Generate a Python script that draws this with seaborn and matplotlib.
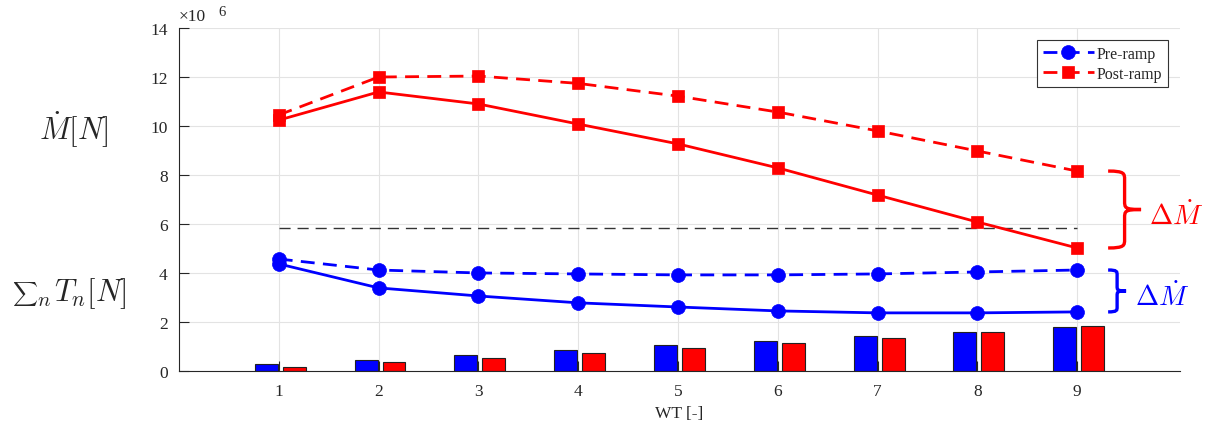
import numpy as np
import pandas as pd
import matplotlib
matplotlib.use("Agg")
import matplotlib.pyplot as plt
from matplotlib.path import Path
from matplotlib.patches import PathPatch
import seaborn as sns

# ---------------- data (values in units of 1e6 N) ----------------
wt = np.array([1, 2, 3, 4, 5, 6, 7, 8, 9])
post_dashed = [10.45, 12.00, 12.04, 11.74, 11.22, 10.57, 9.80, 8.98, 8.16]
post_solid = [10.24, 11.39, 10.90, 10.08, 9.27, 8.29, 7.18, 6.08, 5.02]
pre_dashed = [4.57, 4.12, 4.00, 3.96, 3.92, 3.92, 3.96, 4.04, 4.12]
pre_solid = [4.37, 3.39, 3.06, 2.78, 2.61, 2.45, 2.37, 2.37, 2.41]
pre_bars = [0.27, 0.46, 0.67, 0.86, 1.06, 1.22, 1.43, 1.59, 1.80]
post_bars = [0.16, 0.35, 0.53, 0.73, 0.93, 1.12, 1.35, 1.59, 1.84]
ref_level = 5.85
xticks = [1, 2, 3, 4, 5, 6, 7, 8, 9]
yticks = [0, 2, 4, 6, 8, 10, 12, 14]

# ---------------- style ----------------
sns.set_theme(style="whitegrid")
plt.rcParams['font.family'] = ['Liberation Serif', 'DejaVu Serif']
plt.rcParams['mathtext.fontset'] = 'cm'

fig = plt.figure(figsize=(12.09, 4.27), dpi=100)
ax = fig.add_axes([0.148, 0.129, 0.828, 0.803])

BLUE = '#0000ff'
RED = '#ff0000'
tick_col = '#262626'

# bars
bw = 0.23
ax.bar(wt - 0.24, pre_bars, width=bw, align='edge', color=BLUE,
       edgecolor='#222222', linewidth=0.8, zorder=2)
ax.bar(wt + 0.04, post_bars, width=bw, align='edge', color=RED,
       edgecolor='#222222', linewidth=0.8, zorder=2)

# reference dashed black line
ax.plot([wt[0], wt[-1]], [ref_level, ref_level], color='#333333',
        linewidth=1.0, linestyle=(0, (8, 5)), zorder=2)

lw = 2.0
dash = (0, (5, 3))
sns.lineplot(x=wt, y=pre_dashed, ax=ax, color=BLUE, linewidth=lw,
             linestyle=dash, marker='o', markersize=10,
             markeredgecolor=BLUE, markeredgewidth=0.5, label='Pre-ramp', zorder=4)
sns.lineplot(x=wt, y=post_dashed, ax=ax, color=RED, linewidth=lw,
             linestyle=dash, marker='s', markersize=8,
             markeredgecolor=RED, markeredgewidth=0.5, label='Post-ramp', zorder=4)
sns.lineplot(x=wt, y=pre_solid, ax=ax, color=BLUE, linewidth=lw,
             marker='o', markersize=10, markeredgecolor=BLUE,
             markeredgewidth=0.5, zorder=4, legend=False)
sns.lineplot(x=wt, y=post_solid, ax=ax, color=RED, linewidth=lw,
             marker='s', markersize=8, markeredgecolor=RED,
             markeredgewidth=0.5, zorder=4, legend=False)

# axes
ax.set_xlim(0, 10.03)
ax.set_ylim(0, 14)
ax.set_xticks(xticks)
ax.set_yticks(yticks)
ax.set_xticklabels([str(v) for v in xticks])
ax.set_yticklabels([str(v) for v in yticks])
ax.tick_params(axis='both', which='major', direction='in', length=7, width=0.8,
               colors=tick_col, labelsize=12.5, bottom=True, left=True)
ax.tick_params(axis='x', pad=9)
ax.tick_params(axis='y', pad=8)
ax.grid(True, color='#e3e3e3', linewidth=0.8)
ax.set_axisbelow(True)
for s in ['top', 'right']:
    ax.spines[s].set_visible(False)
for s in ['left', 'bottom']:
    ax.spines[s].set_visible(True)
    ax.spines[s].set_color(tick_col)
    ax.spines[s].set_linewidth(0.8)
ax.set_xlabel('WT [-]', fontsize=12.5, color=tick_col, labelpad=4)
ax.set_ylabel('')

# exponent label
ax.text(0.0, 1.012, '×10', transform=ax.transAxes, fontsize=12.5,
        color=tick_col, ha='left', va='bottom')
ax.text(0.039, 1.03, '6', transform=ax.transAxes, fontsize=10.5,
        color=tick_col, ha='left', va='bottom')

# legend (use the actual dashed line artists as handles)
handles = [l for l in ax.lines if l.get_label() in ('Pre-ramp', 'Post-ramp')]
leg = ax.legend(handles=handles, labels=[h.get_label() for h in handles],
                loc='upper right', bbox_to_anchor=(0.988, 0.965),
                borderaxespad=0.0,
                fontsize=11.5, frameon=True, fancybox=False,
                edgecolor='#333333', handlelength=3.2, borderpad=0.35,
                labelspacing=0.25, handletextpad=0.2, framealpha=1)
leg.get_frame().set_linewidth(0.8)

# left-side labels
fig.text(0.061, 0.696, r'$\dot{M}[N]$', fontsize=22, ha='center', va='center')
fig.text(0.010, 0.297, r'$\sum$', fontsize=12.5, ha='left', va='baseline')
fig.text(0.031, 0.283, r'$n$', fontsize=15, ha='left', va='baseline')
fig.text(0.045, 0.295, r'$T_n[N]$', fontsize=22, ha='left', va='baseline')

# braces
def brace(ax, x0, width, y0, y1, color):
    ym = 0.5 * (y0 + y1)
    xm = x0 + width * 0.5
    xt = x0 + width
    r = min(0.35, (y1 - y0) * 0.12)
    verts = [
        (x0, y1), (xm, y1), (xm, y1 - r * 0.3), (xm, y1 - r),
        (xm, ym + r),
        (xm, ym + r * 0.2), (xm, ym), (xt, ym),
        (xm, ym), (xm, ym - r * 0.2), (xm, ym - r),
        (xm, y0 + r),
        (xm, y0 + r * 0.3), (xm, y0), (x0, y0),
    ]
    codes = [Path.MOVETO, Path.CURVE4, Path.CURVE4, Path.CURVE4,
             Path.LINETO,
             Path.CURVE4, Path.CURVE4, Path.CURVE4,
             Path.CURVE4, Path.CURVE4, Path.CURVE4,
             Path.LINETO,
             Path.CURVE4, Path.CURVE4, Path.CURVE4]
    ax.add_patch(PathPatch(Path(verts, codes), facecolor='none',
                           edgecolor=color, linewidth=2.4, clip_on=False,
                           zorder=5))

brace(ax, 9.31, 0.33, post_solid[-1], post_dashed[-1], RED)
brace(ax, 9.31, 0.18, pre_solid[-1], pre_dashed[-1], BLUE)
ax.text(9.72, 0.5 * (post_solid[-1] + post_dashed[-1]) - 0.25,
        r'$\Delta\dot{M}$', color=RED, fontsize=20, ha='left', va='center',
        clip_on=False)
ax.text(9.58, 0.5 * (pre_solid[-1] + pre_dashed[-1]) - 0.2,
        r'$\Delta\dot{M}$', color=BLUE, fontsize=20, ha='left', va='center',
        clip_on=False)

fig.savefig('out.png', dpi=100)
